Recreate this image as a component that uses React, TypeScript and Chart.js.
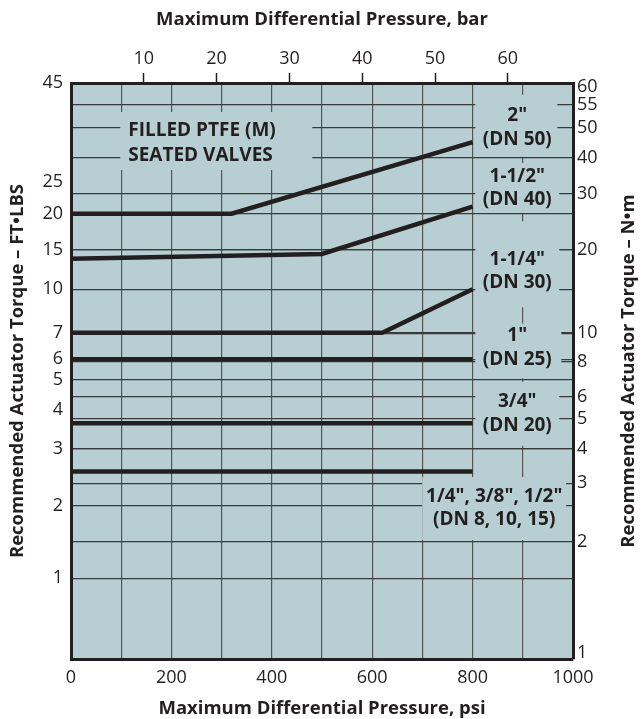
import React, { useEffect, useRef } from 'react';
import { Chart, LinearScale, registerables } from 'chart.js';

Chart.register(...registerables);

// ---------- data ----------
const PSI_TICKS_STEP = 100;
const BAR_TICKS = [10, 20, 30, 40, 50, 60];
const FTLB_TICKS = [1, 2, 3, 4, 5, 6, 7, 10, 15, 20, 25, 45];
const NM_TICKS = [1, 2, 3, 4, 5, 6, 8, 10, 20, 30, 40, 50, 55, 60];

// Non-uniform torque scales of the original chart (value -> fraction of axis height)
const FTLB_SCALE_VALUES = [0, 1, 2, 3, 4, 5, 6, 7, 10, 15, 20, 25, 45];
const FTLB_SCALE_POS = [0, 0.1402, 0.2658, 0.3656, 0.4325, 0.4846, 0.5202, 0.5663, 0.6418, 0.7099, 0.773, 0.8291, 1];
const NM_SCALE_VALUES = [0.9, 1, 2, 3, 4, 5, 6, 8, 10, 20, 30, 40, 50, 55, 60, 61];
const NM_SCALE_POS = [0, 0.0099, 0.2038, 0.3052, 0.3648, 0.4169, 0.4556, 0.5164, 0.5654, 0.7099, 0.8082, 0.8697, 0.9218, 0.9623, 0.9927, 1];

const PSI_DN50 = [0, 320, 800];
const FTLB_DN50 = [20, 20, 33];
const PSI_DN40 = [0, 500, 800];
const FTLB_DN40 = [13.9, 14.5, 21.1];
const PSI_DN30 = [0, 620, 800];
const FTLB_DN30 = [7, 7, 10];
const PSI_DN25 = [0, 800];
const FTLB_DN25 = [6, 6];
const PSI_DN20 = [0, 800];
const FTLB_DN20 = [3.65, 3.65];
const PSI_DN8_15 = [0, 800];
const FTLB_DN8_15 = [2.6, 2.6];

const CURVE_LABEL_TEXT = [
  ['2"', '(DN 50)'],
  ['1-1/2"', '(DN 40)'],
  ['1-1/4"', '(DN 30)'],
  ['1"', '(DN 25)'],
  ['3/4"', '(DN 20)'],
  ['1/4", 3/8", 1/2"', '(DN 8, 10, 15)'],
];
const CURVE_LABEL_PSI = [889, 889, 889, 889, 889, 843];
const CURVE_LABEL_FTLB = [35.9, 24, 12.3, 6.45, 3.9, 1.97];
// box around each label: [left, right, top, bottom] px offsets from label centre
const CURVE_LABEL_BOX = [
  [-42, 40, -33, 29],
  [-42, 42, -25, 25],
  [-42, 42, -50, 36],
  [-42, 44, -24, 31],
  [-42, 42, -32, 32],
  [-72, 72, -31, 32],
];
const NOTE_TEXT = ['FILLED PTFE (M)', 'SEATED VALVES'];
const NOTE_PSI = 114;
const NOTE_FTLB = 32.8;
const NOTE_BOX = [-8, 184, -31, 27];

const TITLE_BAR = 'Maximum Differential Pressure, bar';
const TITLE_PSI = 'Maximum Differential Pressure, psi';
const TITLE_FTLB = 'Recommended Actuator Torque \u2013 FT\u2022LBS';
const TITLE_NM = 'Recommended Actuator Torque \u2013 N\u2022m';

// ---------- styles ----------
const DARK = '#231f20';
const PLOT_BG = '#b7cfd2';
const GRID_H = '#3a3a3a';
const GRID_V = '#555555';
const FONT = '"Open Sans", "DejaVu Sans", sans-serif';

// ---------- custom piecewise scale ----------
const SCALE_KNOTS: Record<string, { v: number[]; f: number[] }> = {
  y: { v: FTLB_SCALE_VALUES, f: FTLB_SCALE_POS },
  y2: { v: NM_SCALE_VALUES, f: NM_SCALE_POS },
};
const SCALE_TICKS: Record<string, number[]> = { y: FTLB_TICKS, y2: NM_TICKS };

function lerp(xs: number[], ys: number[], x: number) {
  const n = xs.length;
  let i = 0;
  if (x <= xs[0]) i = 0;
  else if (x >= xs[n - 1]) i = n - 2;
  else {
    while (i < n - 2 && x > xs[i + 1]) i++;
  }
  const t = (x - xs[i]) / (xs[i + 1] - xs[i]);
  return ys[i] + t * (ys[i + 1] - ys[i]);
}

class PiecewiseScale extends LinearScale {
  static id = 'piecewise';
  buildTicks() {
    return (SCALE_TICKS[this.id] || []).map((value) => ({ value }));
  }
  getPixelForValue(value: number) {
    if (value === null || value === undefined || isNaN(value)) return NaN;
    const k = SCALE_KNOTS[this.id];
    return this.getPixelForDecimal(lerp(k.v, k.f, value));
  }
  getValueForPixel(pixel: number) {
    const k = SCALE_KNOTS[this.id];
    return lerp(k.f, k.v, this.getDecimalForPixel(pixel));
  }
}
Chart.register(PiecewiseScale as any);

function series(xs: number[], ys: number[]) {
  return xs.map((x, i) => ({ x, y: ys[i] }));
}

const decorPlugin = {
  id: 'decor',
  beforeDraw(chart: any) {
    const { ctx, chartArea: a } = chart;
    ctx.save();
    ctx.fillStyle = '#ffffff';
    ctx.fillRect(0, 0, chart.width, chart.height);
    ctx.fillStyle = PLOT_BG;
    ctx.fillRect(a.left, a.top, a.right - a.left, a.bottom - a.top);
    ctx.restore();
  },
  beforeDatasetsDraw(chart: any) {
    const { ctx } = chart;
    const xs = chart.scales.x;
    const ys = chart.scales.y;
    ctx.save();
    ctx.font = `bold 19px ${FONT}`;
    ctx.textBaseline = 'middle';
    const lineGap = 23.5;
    CURVE_LABEL_TEXT.forEach((lines, i) => {
      const cx = xs.getPixelForValue(CURVE_LABEL_PSI[i]);
      const cy = ys.getPixelForValue(CURVE_LABEL_FTLB[i]);
      const b = CURVE_LABEL_BOX[i];
      ctx.fillStyle = PLOT_BG;
      ctx.fillRect(cx + b[0], cy + b[2], b[1] - b[0], b[3] - b[2]);
      ctx.fillStyle = DARK;
      ctx.textAlign = 'center';
      ctx.fillText(lines[0], cx, cy - lineGap / 2);
      ctx.fillText(lines[1], cx, cy + lineGap / 2);
    });
    const nx = xs.getPixelForValue(NOTE_PSI);
    const ny = ys.getPixelForValue(NOTE_FTLB);
    ctx.fillStyle = PLOT_BG;
    ctx.fillRect(nx + NOTE_BOX[0], ny + NOTE_BOX[2], NOTE_BOX[1] - NOTE_BOX[0], NOTE_BOX[3] - NOTE_BOX[2]);
    ctx.fillStyle = DARK;
    ctx.textAlign = 'left';
    ctx.fillText(NOTE_TEXT[0], nx, ny - 12.5);
    ctx.fillText(NOTE_TEXT[1], nx, ny + 12.5);
    ctx.restore();
  },
  afterDraw(chart: any) {
    const { ctx, chartArea: a } = chart;
    ctx.save();
    ctx.font = `bold 18.5px ${FONT}`;
    ctx.fillStyle = DARK;
    ctx.textAlign = 'center';
    ctx.textBaseline = 'middle';
    ctx.translate(629, (a.top + a.bottom) / 2);
    ctx.rotate(-Math.PI / 2);
    ctx.fillText(TITLE_NM, 0, 0);
    ctx.restore();
  },
};

export default function App() {
  const ref = useRef<HTMLCanvasElement>(null);
  useEffect(() => {
    if (!ref.current) return;
    const lineStyle = {
      borderColor: DARK,
      borderWidth: 4.5,
      pointRadius: 0,
      tension: 0,
      borderCapStyle: 'butt' as const,
      fill: false,
      xAxisID: 'x',
      yAxisID: 'y',
    };
    const tickFont = { family: FONT, size: 18 };
    const titleFont = { family: FONT, size: 18.5, weight: 'bold' as const };
    const border = { display: true, color: DARK, width: 3 };
    const chart = new Chart(ref.current, {
      type: 'line',
      data: {
        datasets: [
          { label: '2" (DN 50)', data: series(PSI_DN50, FTLB_DN50), ...lineStyle },
          { label: '1-1/2" (DN 40)', data: series(PSI_DN40, FTLB_DN40), ...lineStyle },
          { label: '1-1/4" (DN 30)', data: series(PSI_DN30, FTLB_DN30), ...lineStyle },
          { label: '1" (DN 25)', data: series(PSI_DN25, FTLB_DN25), ...lineStyle },
          { label: '3/4" (DN 20)', data: series(PSI_DN20, FTLB_DN20), ...lineStyle },
          { label: '1/4", 3/8", 1/2" (DN 8, 10, 15)', data: series(PSI_DN8_15, FTLB_DN8_15), ...lineStyle },
        ],
      },
      options: {
        animation: false,
        responsive: true,
        maintainAspectRatio: false,
        layout: { padding: 0 },
        plugins: { legend: { display: false }, tooltip: { enabled: false } },
        scales: {
          x: {
            type: 'linear',
            position: 'bottom',
            min: 0,
            max: 1000,
            afterFit: (s: any) => { s.height = 60; },
            ticks: {
              stepSize: PSI_TICKS_STEP,
              autoSkip: false,
              maxRotation: 0,
              padding: 8,
              color: DARK,
              font: tickFont,
              callback: (v: any) => (Number(v) % 200 === 0 ? String(v) : ''),
            },
            grid: {
              drawTicks: false,
              lineWidth: 1.2,
              color: (c: any) => (c.tick && (c.tick.value === 0 || c.tick.value === 1000) ? 'rgba(0,0,0,0)' : GRID_V),
            },
            border,
            title: { display: true, text: TITLE_PSI, color: DARK, font: titleFont, padding: { top: 0, bottom: -1 } },
          },
          x2: {
            type: 'linear',
            position: 'top',
            min: 0,
            max: 1000 / 14.5038,
            afterFit: (s: any) => { s.height = 83; },
            afterBuildTicks: (s: any) => { s.ticks = BAR_TICKS.map((value) => ({ value })); },
            ticks: { autoSkip: false, maxRotation: 0, padding: 3, color: DARK, font: tickFont, callback: (v: any) => String(v) },
            grid: { drawOnChartArea: false, drawTicks: true, tickLength: 10, tickColor: DARK, tickWidth: 1.5, color: DARK },
            border,
            title: { display: true, text: TITLE_BAR, color: DARK, font: titleFont, padding: { top: 9, bottom: 0 } },
          },
          y: {
            type: 'piecewise' as any,
            position: 'left',
            min: 0,
            max: 45,
            afterFit: (s: any) => { s.width = 71; },
            ticks: { autoSkip: false, padding: 8, color: DARK, font: tickFont, callback: (v: any) => String(v) },
            grid: {
              drawTicks: false,
              lineWidth: 1.2,
              color: (c: any) => (c.tick && [4, 25, 45].includes(c.tick.value) ? 'rgba(0,0,0,0)' : GRID_H),
            },
            border,
            title: { display: true, text: TITLE_FTLB, color: DARK, font: titleFont, padding: { top: 7, bottom: 0 } },
          },
          y2: {
            type: 'piecewise' as any,
            position: 'right',
            min: 0.9,
            max: 61,
            afterFit: (s: any) => { s.width = 68; },
            ticks: { autoSkip: false, padding: 4, color: DARK, font: tickFont, callback: (v: any) => String(v) },
            grid: {
              drawTicks: false,
              lineWidth: 1.2,
              color: (c: any) => (c.tick && [1, 60].includes(c.tick.value) ? 'rgba(0,0,0,0)' : GRID_H),
            },
            border,
          },
        } as any,
      },
      plugins: [decorPlugin],
    });
    return () => chart.destroy();
  }, []);
  return (
    <div style={{ position: 'fixed', left: 0, top: 0, width: 641, height: 719, background: '#fff' }}>
      <canvas ref={ref} />
    </div>
  );
}
